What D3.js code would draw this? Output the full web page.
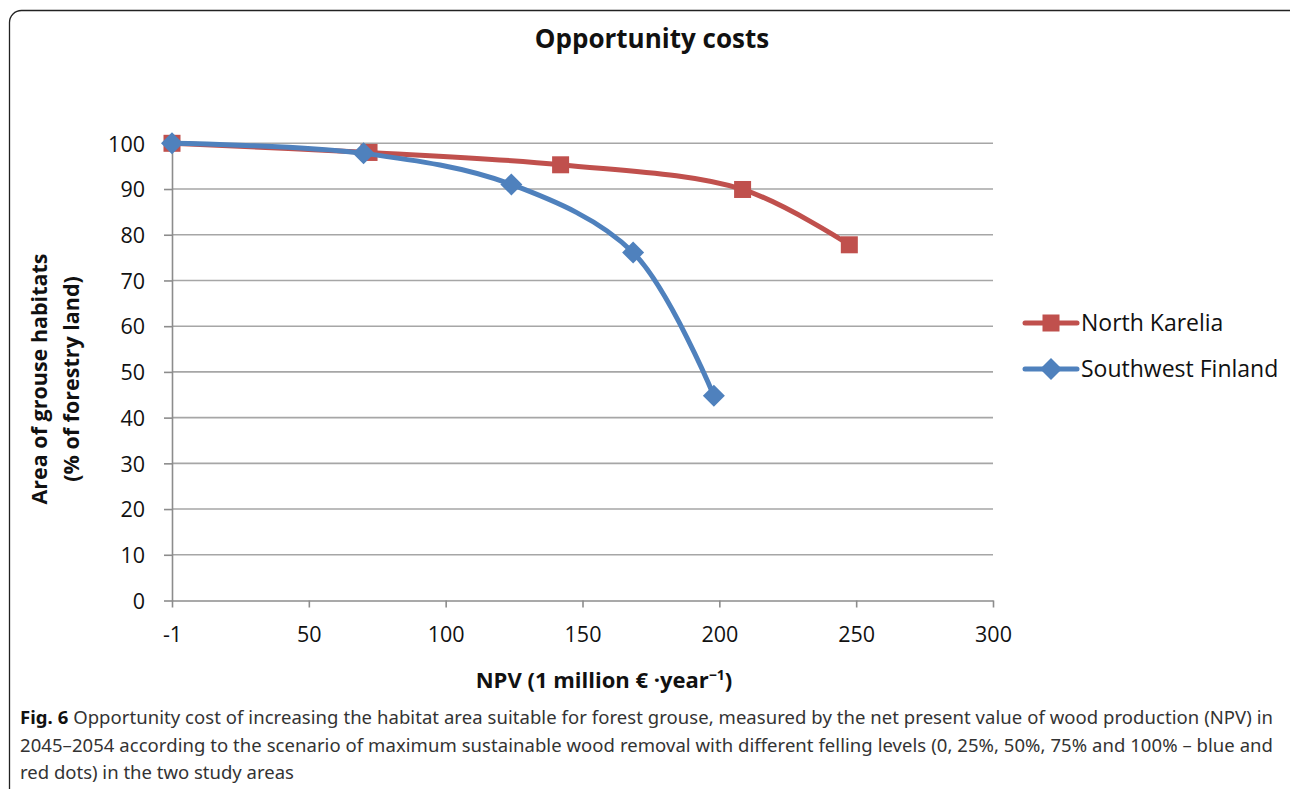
<!DOCTYPE html>
<html><head><meta charset="utf-8">
<script src="https://cdn.jsdelivr.net/npm/d3@7"></script>
<style>
html,body{margin:0;padding:0;background:#fff;}
svg{display:block;}
</style></head>
<body>
<svg id="chart" width="1290" height="789"></svg>
<script>
// ---- data ----
const seriesNames = ["North Karelia", "Southwest Finland"];
const northKareliaX = [0, 72, 142, 208.5, 247.5];
const northKareliaY = [100, 98, 95.3, 89.9, 77.8];
const southwestFinlandX = [0, 70, 124, 168.5, 198];
const southwestFinlandY = [100, 97.8, 91, 76.1, 44.8];
const xTickValues = [0, 50, 100, 150, 200, 250, 300];
const xTickLabels = ["-1", "50", "100", "150", "200", "250", "300"];
const yTickValues = [0, 10, 20, 30, 40, 50, 60, 70, 80, 90, 100];
const titleText = "Opportunity costs";
const yTitleLines = ["Area of grouse habitats", "(% of forestry  land)"];
const captionLines = [
  ["Fig. 6", " Opportunity cost of increasing the habitat area suitable for forest grouse, measured by the net present value of wood production (NPV) in"],
  ["", "2045–2054 according to the scenario of maximum sustainable wood removal with different felling levels (0, 25%, 50%, 75% and 100% – blue and"],
  ["", "red dots) in the two study areas"]
];

const colors = ["#C0504D", "#4F81BD"];
const chartFont = "'Open Sans', Lato, sans-serif";

const svg = d3.select("#chart");

// frame
svg.append("rect").attr("x", 9.5).attr("y", 10.5).attr("width", 1300).attr("height", 800)
  .attr("rx", 12).attr("fill", "none").attr("stroke", "#222").attr("stroke-width", 1.3);

const pLeft = 172, pRight = 993, pTop = 143.3, pBottom = 600.5;
const x = d3.scaleLinear().domain([0, 300]).range([pLeft, pRight]);
const y = d3.scaleLinear().domain([0, 100]).range([pBottom, pTop]);

// gridlines
svg.append("g").selectAll("line").data(yTickValues.filter(d => d > 0)).join("line")
  .attr("x1", pLeft).attr("x2", pRight).attr("y1", d => y(d)).attr("y2", d => y(d))
  .attr("stroke", "#a6a6a6").attr("stroke-width", 1.6);

// axes
const xAxis = svg.append("g").attr("transform", `translate(0,${pBottom})`)
  .call(d3.axisBottom(x).tickValues(xTickValues).tickFormat((d, i) => xTickLabels[i]).tickSizeInner(7).tickSizeOuter(0).tickPadding(19));
const yAxis = svg.append("g").attr("transform", `translate(${pLeft},0)`)
  .call(d3.axisLeft(y).tickValues(yTickValues).tickSizeInner(8).tickSizeOuter(0).tickPadding(19));
[xAxis, yAxis].forEach(a => {
  a.select(".domain").attr("stroke", "#8c8c8c").attr("stroke-width", 1.6);
  a.selectAll(".tick line").attr("stroke", "#8c8c8c").attr("stroke-width", 1.6);
  a.selectAll(".tick text").attr("font-family", chartFont).attr("font-size", 21.5).attr("fill", "#111");
});
yAxis.selectAll(".tick text").attr("dy", "0.36em");

// series
const series = [
  {name: seriesNames[0], xs: northKareliaX, ys: northKareliaY, color: colors[0], marker: "square"},
  {name: seriesNames[1], xs: southwestFinlandX, ys: southwestFinlandY, color: colors[1], marker: "diamond"}
];
const line = d3.line().x(d => x(d[0])).y(d => y(d[1])).curve(d3.curveCatmullRom.alpha(0.5));

function drawMarker(g, type, cx, cy, color) {
  if (type === "square") {
    g.append("rect").attr("x", cx - 8.5).attr("y", cy - 8.5).attr("width", 17).attr("height", 17).attr("fill", color);
  } else {
    const s = 11;
    g.append("path").attr("d", `M${cx},${cy - s}L${cx + s},${cy}L${cx},${cy + s}L${cx - s},${cy}Z`).attr("fill", color);
  }
}

series.forEach(s => {
  const pts = s.xs.map((v, i) => [v, s.ys[i]]);
  svg.append("path").datum(pts).attr("d", line).attr("fill", "none")
    .attr("stroke", s.color).attr("stroke-width", 5).attr("stroke-linejoin", "round").attr("stroke-linecap", "round");
  const g = svg.append("g");
  pts.forEach(p => drawMarker(g, s.marker, x(p[0]), y(p[1]), s.color));
});

// legend
series.forEach((s, i) => {
  const ly = 323 + i * 46;
  svg.append("line").attr("x1", 1025).attr("x2", 1077).attr("y1", ly).attr("y2", ly)
    .attr("stroke", s.color).attr("stroke-width", 5).attr("stroke-linecap", "round");
  drawMarker(svg.append("g"), s.marker, 1051, ly, s.color);
  svg.append("text").attr("x", 1081).attr("y", ly).attr("dy", "0.36em")
    .attr("font-family", chartFont).attr("font-size", 23).attr("fill", "#111").text(s.name);
});

// title
svg.append("text").attr("x", 652).attr("y", 48).attr("text-anchor", "middle")
  .attr("font-family", chartFont).attr("font-weight", "bold").attr("font-size", 26).attr("fill", "#111").text(titleText);

// y title
yTitleLines.forEach((t, i) => {
  svg.append("text").attr("transform", `translate(${47 + i * 32},${379}) rotate(-90)`)
    .attr("text-anchor", "middle").attr("font-family", chartFont).attr("font-weight", "bold")
    .attr("font-size", 21.5).attr("fill", "#111").text(t);
});

// x title
const xt = svg.append("text").attr("x", 604).attr("y", 688).attr("text-anchor", "middle")
  .attr("font-family", chartFont).attr("font-weight", "bold").attr("font-size", 22).attr("fill", "#111");
xt.append("tspan").text("NPV (1 million € ·year");
xt.append("tspan").attr("dy", -8).attr("font-size", 14).text("−1");
xt.append("tspan").attr("dy", 8).text(")");

// caption
captionLines.forEach((ln, i) => {
  const t = svg.append("text").attr("x", 20).attr("y", 724 + i * 27.5)
    .attr("font-family", "'Noto Sans', 'Open Sans', sans-serif").attr("font-size", 18.5).attr("fill", "#333");
  if (ln[0]) t.append("tspan").attr("font-weight", "bold").attr("fill", "#111").text(ln[0]);
  t.append("tspan").text(ln[1]);
  if (i < 2) t.attr("textLength", 1253).attr("lengthAdjust", "spacing");
});
</script>
</body></html>
